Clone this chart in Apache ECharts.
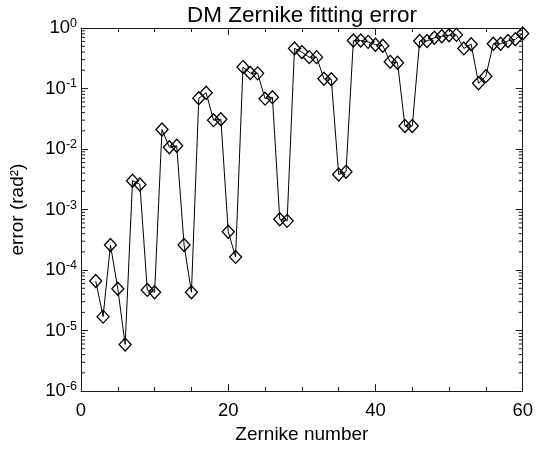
<!DOCTYPE html>
<html>
<head>
<meta charset="utf-8">
<script src="https://cdn.jsdelivr.net/npm/echarts@6/dist/echarts.min.js"></script>
<style>
  html, body { margin: 0; padding: 0; background: #fff; }
  #chart { width: 536px; height: 449px; }
</style>
</head>
<body>
<div id="chart"></div>
<script>
// Zernike mode index (x) and DM fitting error in rad^2 (y)
const zernikeNumbers = [
  2, 3, 4, 5, 6, 7, 8, 9, 10, 11, 12, 13, 14, 15, 16, 17, 18, 19, 20, 21,
  22, 23, 24, 25, 26, 27, 28, 29, 30, 31, 32, 33, 34, 35, 36, 37, 38, 39, 40, 41,
  42, 43, 44, 45, 46, 47, 48, 49, 50, 51, 52, 53, 54, 55, 56, 57, 58, 59, 60
];
const fittingError = [
  6.6e-5, 1.7e-5, 2.6e-4, 4.9e-5, 5.9e-6, 3.0e-3, 2.6e-3, 4.7e-5, 4.3e-5, 0.021,
  0.0107, 0.0113, 2.6e-4, 4.3e-5, 0.069, 0.085, 0.030, 0.031, 4.3e-4, 1.65e-4,
  0.226, 0.18, 0.178, 0.068, 0.072, 6.9e-4, 6.5e-4, 0.46, 0.40, 0.33,
  0.33, 0.145, 0.142, 3.8e-3, 4.2e-3, 0.62, 0.62, 0.59, 0.53, 0.51,
  0.276, 0.266, 0.024, 0.024, 0.61, 0.61, 0.69, 0.73, 0.76, 0.77,
  0.46, 0.54, 0.122, 0.16, 0.55, 0.55, 0.61, 0.65, 0.81
];

// Axis ranges and tick labels
const xRange = [0, 60];
const xTickLabels = ['0', '20', '40', '60'];
const yRange = [1e-6, 1];

// Minor tick positions of the logarithmic y axis (2..9 in every decade)
const yMinorTicks = [];
for (let e = -6; e < 0; e++) {
  for (let m = 2; m <= 9; m++) yMinorTicks.push([xRange[0], m * Math.pow(10, e)]);
}

const points = zernikeNumbers.map((z, i) => [z, fittingError[i]]);

const FONT = '"Liberation Sans", Arial, Helvetica, sans-serif';
const AXIS_COLOR = '#1a1a1a';

const chart = echarts.init(document.getElementById('chart'), null, { renderer: 'canvas' });

const xBase = {
  type: 'value',
  min: xRange[0],
  max: xRange[1],
  interval: 20,
  splitLine: { show: false },
  axisLine: { show: true, onZero: false, lineStyle: { color: AXIS_COLOR, width: 1 } },
  axisTick: { show: true, inside: true, length: 7, lineStyle: { color: AXIS_COLOR } },
  minorTick: { show: true, splitNumber: 4, length: 4, lineStyle: { color: AXIS_COLOR } },
  minorSplitLine: { show: false }
};

const yBase = {
  type: 'log',
  logBase: 10,
  min: yRange[0],
  max: yRange[1],
  splitLine: { show: false },
  axisLine: { show: true, onZero: false, lineStyle: { color: AXIS_COLOR, width: 1 } },
  axisTick: { show: true, inside: true, length: 7, lineStyle: { color: AXIS_COLOR } },
  minorTick: { show: false }
};

chart.setOption({
  animation: false,
  backgroundColor: '#fff',
  textStyle: { fontFamily: FONT },
  title: {
    text: 'DM Zernike fitting error',
    left: 297,
    top: -1,
    textAlign: 'center',
    textStyle: { fontFamily: FONT, fontSize: 22.5, fontWeight: 'normal', color: '#000' }
  },
  grid: { left: 79, right: 12, top: 28, bottom: 56, containLabel: false },
  xAxis: [
    Object.assign({}, xBase, {
      position: 'bottom',
      name: 'Zernike number',
      nameLocation: 'middle',
      nameGap: 32,
      nameTextStyle: { fontFamily: FONT, fontSize: 19, color: '#000' },
      axisLabel: {
        show: true, margin: 10, fontFamily: FONT, fontSize: 18.5, color: '#000',
        formatter: (v) => xTickLabels.indexOf(String(v)) >= 0 ? String(v) : ''
      }
    }),
    Object.assign({}, xBase, { position: 'top', axisLabel: { show: false } })
  ],
  yAxis: [
    Object.assign({}, yBase, {
      position: 'left',
      name: 'error (rad²)',
      nameLocation: 'middle',
      nameRotate: 90,
      nameGap: 54,
      nameTextStyle: { fontFamily: FONT, fontSize: 19, color: '#000' },
      axisLabel: {
        show: true, margin: 4, color: '#000',
        formatter: (v) => '{b|10}{s|' + Math.round(Math.log10(v)) + '}',
        rich: {
          b: { fontFamily: FONT, fontSize: 18.5, color: '#000', lineHeight: 22 },
          s: { fontFamily: FONT, fontSize: 12.5, color: '#000', lineHeight: 12, verticalAlign: 'top' }
        }
      }
    }),
    Object.assign({}, yBase, { position: 'right', axisLabel: { show: false } })
  ],
  series: [
    {
      type: 'line',
      xAxisIndex: 0,
      yAxisIndex: 0,
      data: points,
      symbol: 'diamond',
      symbolSize: [12, 13],
      showAllSymbol: true,
      lineStyle: { color: '#000', width: 1 },
      itemStyle: { color: 'rgba(255,255,255,0)', borderColor: '#000', borderWidth: 1.3 },
      emphasis: { disabled: true },
      z: 3
    },
    {
      // logarithmic minor ticks on the left and right frame edges
      type: 'custom',
      xAxisIndex: 0,
      yAxisIndex: 0,
      data: yMinorTicks,
      silent: true,
      clip: false,
      encode: { x: 0, y: 1 },
      renderItem: (params, api) => {
        const v = api.value(1);
        const left = api.coord([xRange[0], v]);
        const right = api.coord([xRange[1], v]);
        const ls = { stroke: AXIS_COLOR, lineWidth: 1 };
        return {
          type: 'group',
          children: [
            { type: 'line', shape: { x1: left[0], y1: left[1], x2: left[0] + 4, y2: left[1] }, style: ls },
            { type: 'line', shape: { x1: right[0] - 4, y1: right[1], x2: right[0], y2: right[1] }, style: ls }
          ]
        };
      },
      z: 2
    }
  ]
});
</script>
</body>
</html>
